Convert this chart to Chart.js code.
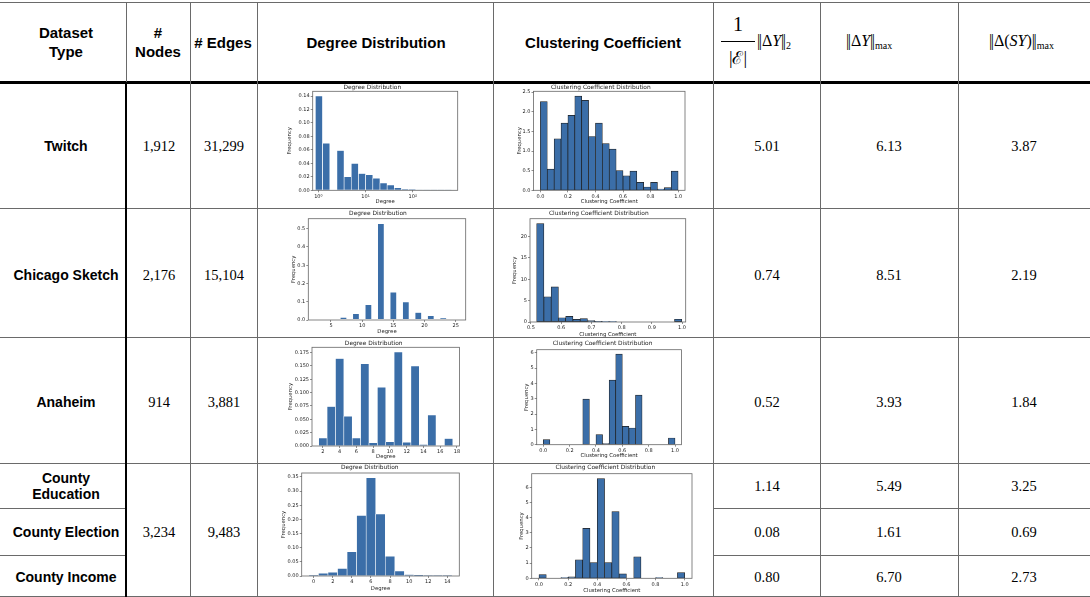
<!DOCTYPE html>
<html lang="en">
<head>
<meta charset="UTF-8">
<title>Dataset statistics</title>
<script src="https://cdn.jsdelivr.net/npm/chart.js"></script>
<style>
  body { margin: 0; background: #fff; }
  #page { position: relative; width: 1090px; height: 597px; overflow: hidden; background: #fff;
          font-family: "Liberation Sans", Arial, sans-serif; color: #000; }
  .h { position: absolute; height: 1px; background: #6a6a6a; }
  .v { position: absolute; width: 1px; background: #6a6a6a; }
  .t { position: absolute; transform: translate(-50%, -50%); text-align: center; white-space: nowrap; }
  .b { font-weight: bold; font-size: 15px; line-height: 19px; }
  .r { font-weight: bold; font-size: 14px; line-height: 16px; }
  .n { font-family: "Liberation Serif", "Times New Roman", serif; font-size: 14.5px; }
  .m { position: absolute; font-family: "Liberation Serif", "Times New Roman", "DejaVu Serif", serif; white-space: nowrap; }
  .m sub { font-size: 10px; vertical-align: -3px; }
  .nb { letter-spacing: -1.5px; margin-right: 1.5px; }
  canvas { position: absolute; }
</style>
</head>
<body>
<div id="page">
  <!-- horizontal rules -->
  <div class="h" style="left:0;top:2px;width:1090px"></div>
  <div class="h" style="left:0;top:81px;width:1090px;height:3px;background:#000"></div>
  <div class="h" style="left:0;top:208px;width:1090px"></div>
  <div class="h" style="left:0;top:337px;width:1090px"></div>
  <div class="h" style="left:0;top:463px;width:1090px"></div>
  <div class="h" style="left:0;top:508px;width:126px"></div>
  <div class="h" style="left:713px;top:508px;width:377px"></div>
  <div class="h" style="left:0;top:555px;width:126px"></div>
  <div class="h" style="left:713px;top:555px;width:377px"></div>
  <div class="h" style="left:0;top:596px;width:1090px"></div>
  <!-- vertical rules -->
  <div class="v" style="left:126px;top:2px;height:80px"></div>
  <div class="v" style="left:125px;top:84px;height:513px;width:2px;background:#000"></div>
  <div class="v" style="left:190px;top:2px;height:595px"></div>
  <div class="v" style="left:257px;top:2px;height:595px"></div>
  <div class="v" style="left:493px;top:2px;height:595px"></div>
  <div class="v" style="left:713px;top:2px;height:595px"></div>
  <div class="v" style="left:820px;top:2px;height:595px"></div>
  <div class="v" style="left:958px;top:2px;height:595px"></div>

  <!-- header -->
  <div class="t b" style="left:66px;top:42px">Dataset<br>Type</div>
  <div class="t b" style="left:158px;top:42px">#<br>Nodes</div>
  <div class="t b" style="left:223px;top:42px"># Edges</div>
  <div class="t b" style="left:376px;top:42px">Degree Distribution</div>
  <div class="t b" style="left:603px;top:42px">Clustering Coefficient</div>

  <div class="m" style="left:722px;top:13px;width:32px;text-align:center;font-size:20px">1</div>
  <div style="position:absolute;left:721px;top:41px;width:34px;height:1px;background:#000"></div>
  <div class="m" style="left:722px;top:45px;width:32px;text-align:center;font-size:18px">|ℰ|</div>
  <div class="m" style="left:757px;top:32px;font-size:16px"><span class="nb">||</span>Δ<i>Y</i><span class="nb">||</span><sub>2</sub></div>
  <div class="m" style="left:846px;top:32px;font-size:16px"><span class="nb">||</span>Δ<i>Y</i><span class="nb">||</span><sub>max</sub></div>
  <div class="m" style="left:989px;top:32px;font-size:16px"><span class="nb">||</span>Δ(<i>SY</i>)<span class="nb">||</span><sub>max</sub></div>
</div>

<script>
  // table values
  const datasetNames = ['Twitch', 'Chicago Sketch', 'Anaheim', 'County<br>Education', 'County Election', 'County Income'];
  const nodeCounts = ['1,912', '2,176', '914', '3,234'];
  const edgeCounts = ['31,299', '15,104', '3,881', '9,483'];
  const errL2 = ['5.01', '0.74', '0.52', '1.14', '0.08', '0.80'];
  const errMax = ['6.13', '8.51', '3.93', '5.49', '1.61', '6.70'];
  const errSmooth = ['3.87', '2.19', '1.84', '3.25', '0.69', '2.73'];

  // histogram data
  const twitchDegBins = [1.03, 1.47, 2.08, 2.95, 4.19, 5.94, 8.43, 12.0, 17.0, 24.1, 34.2, 48.5, 68.9, 97.7, 139, 197, 279, 396, 562];
  const twitchDegFreq = [0.140, 0.070, 0, 0.059, 0.020, 0.040, 0.025, 0.023, 0.018, 0.011, 0.008, 0.004, 0.002, 0.001, 0.0005, 0.0003, 0.0002, 0.0001, 0.0001];
  const twitchDegXTicks = [1, 10, 100];
  const twitchDegXLabels = ['10⁰', '10¹', '10²'];
  const twitchDegYLabels = ['0.00', '0.02', '0.04', '0.06', '0.08', '0.10', '0.12', '0.14'];

  const ccBins = [0.025, 0.075, 0.125, 0.175, 0.225, 0.275, 0.325, 0.375, 0.425, 0.475,
                  0.525, 0.575, 0.625, 0.675, 0.725, 0.775, 0.825, 0.875, 0.925, 0.975];
  const ccXLabels = ['0.0', '0.2', '0.4', '0.6', '0.8', '1.0'];

  const twitchCcFreq = [2.26, 0.54, 1.31, 1.71, 1.91, 2.40, 2.29, 1.37, 1.71, 1.19,
                        1.05, 0.50, 0.37, 0.49, 0.20, 0.085, 0.20, 0.03, 0.07, 0.49];
  const twitchCcYLabels = ['0.0', '0.5', '1.0', '1.5', '2.0', '2.5'];

  const chicagoDegBins = [3, 5, 7, 9, 11, 13, 15, 17, 19, 21, 23, 25];
  const chicagoDegFreq = [0.003, 0.005, 0.016, 0.036, 0.085, 0.529, 0.154, 0.100, 0.043, 0.025, 0.013, 0.005];
  const chicagoDegXLabels = ['5', '10', '15', '20', '25'];
  const chicagoDegYLabels = ['0.0', '0.1', '0.2', '0.3', '0.4', '0.5'];

  const chicagoCcBins = [0.531, 0.555, 0.579, 0.603, 0.627, 0.651, 0.675, 0.699, 0.723, 0.747,
                         0.771, 0.795, 0.819, 0.843, 0.867, 0.891, 0.915, 0.939, 0.963, 0.987];
  const chicagoCcFreq = [23.0, 5.9, 8.2, 1.0, 1.3, 0.6, 0.8, 0.35, 0.15, 0.12,
                         0.1, 0, 0, 0, 0, 0, 0, 0, 0, 0.65];
  const chicagoCcXLabels = ['0.5', '0.6', '0.7', '0.8', '0.9', '1.0'];
  const chicagoCcYLabels = ['0', '5', '10', '15', '20'];

  const anaheimDegBins = [2, 3, 4, 5, 6, 7, 8, 9, 10, 11, 12, 13, 14, 15, 16, 17];
  const anaheimDegFreq = [0.015, 0.074, 0.164, 0.056, 0.015, 0.154, 0.006, 0.110, 0.008, 0.176, 0.007, 0.150, 0.003, 0.058, 0, 0.014];
  const anaheimDegXLabels = ['2', '4', '6', '8', '10', '12', '14', '16', '18'];
  const anaheimDegYLabels = ['0.000', '0.025', '0.050', '0.075', '0.100', '0.125', '0.150', '0.175'];

  const anaheimCcFreq = [0.33, 0, 0, 0, 0, 0, 2.98, 0, 0.66, 0.07,
                         4.22, 5.91, 1.20, 1.09, 3.24, 0, 0, 0, 0, 0.44];
  const anaheimCcYLabels = ['0', '1', '2', '3', '4', '5', '6'];

  const countyDegBins = [0, 1, 2, 3, 4, 5, 6, 7, 8, 9, 10, 11, 12, 13, 14];
  const countyDegFreq = [0.004, 0.010, 0.013, 0.027, 0.086, 0.214, 0.347, 0.219, 0.070, 0.018, 0.005, 0.002, 0.0005, 0.0003, 0.0002];
  const countyDegXLabels = ['0', '2', '4', '6', '8', '10', '12', '14'];
  const countyDegYLabels = ['0.00', '0.05', '0.10', '0.15', '0.20', '0.25', '0.30', '0.35'];

  const countyCcFreq = [0.24, 0, 0, 0.04, 0.09, 1.22, 3.30, 1.04, 6.57, 1.04,
                        4.40, 0.29, 0, 1.42, 0, 0, 0.04, 0, 0, 0.38];
  const countyCcYLabels = ['0', '1', '2', '3', '4', '5', '6'];

  const page = document.getElementById('page');

  // table text
  function cellText(txt, x, y, cls) {
    const d = document.createElement('div');
    d.className = 't ' + cls;
    d.style.left = x + 'px';
    d.style.top = y + 'px';
    d.innerHTML = txt;
    page.appendChild(d);
  }
  const rowY = [146, 275, 402, 486, 532, 577];
  const groupY = [146, 275, 402, 532];
  datasetNames.forEach((name, i) => {
    cellText(name, 66, rowY[i], 'r');
    cellText(errL2[i], 767, rowY[i], 'n');
    cellText(errMax[i], 889, rowY[i], 'n');
    cellText(errSmooth[i], 1024, rowY[i], 'n');
  });
  nodeCounts.forEach((v, i) => cellText(v, 159, groupY[i], 'n'));
  edgeCounts.forEach((v, i) => cellText(v, 224, groupY[i], 'n'));

  // small matplotlib-like histograms
  const FONT = '"DejaVu Sans", sans-serif';
  const BAR = '#3b6ea8';
  const TXT = '#1a1a1a';
  const TITLE_SIZE = 5.9;

  const framePlugin = {
    id: 'frame',
    afterDraw(chart) {
      const { ctx, chartArea: a } = chart;
      ctx.save();
      ctx.strokeStyle = '#666';
      ctx.lineWidth = 0.8;
      ctx.strokeRect(a.left, a.top, a.right - a.left, a.bottom - a.top);
      ctx.restore();
    }
  };

  function hist(o) {
    const [L, T, R, B] = o.box;
    const lh = TITLE_SIZE * 1.2;
    const tpad = Math.max(o.tgap - lh / 2, 0);
    const th = lh + tpad;
    const cx = Math.floor(L - o.yw - 2), cy = Math.floor(T - th - 2);
    const cw = Math.ceil(R + 3) - cx, ch = Math.ceil(B + o.xh + 2) - cy;
    const cv = document.createElement('canvas');
    cv.width = cw;
    cv.height = ch;
    cv.style.left = cx + 'px';
    cv.style.top = cy + 'px';
    page.appendChild(cv);

    const tickFont = { family: FONT, size: 5 };
    const labFont = { family: FONT, size: 5.3 };
    const xTicks = o.xTicks || o.xLabels.map(Number);
    const yTicks = o.yLabels.map(Number);
    const tickGrid = { offset: false, drawOnChartArea: false, tickLength: 2, color: '#444', lineWidth: 0.6 };

    new Chart(cv, {
      type: 'bar',
      data: {
        datasets: [{
          data: o.bins.map((x, i) => ({ x: x, y: o.freq[i] })),
          backgroundColor: BAR,
          borderColor: o.edge,
          borderWidth: o.edgeW,
          borderSkipped: false,
          barPercentage: o.pct || 1,
          categoryPercentage: 1
        }]
      },
      options: {
        responsive: false,
        animation: false,
        devicePixelRatio: 1,
        events: [],
        layout: { padding: { left: L - o.yw - cx, top: T - th - cy, right: cx + cw - R, bottom: cy + ch - B - o.xh } },
        plugins: {
          legend: { display: false },
          tooltip: { enabled: false },
          title: { display: true, text: o.title, color: TXT,
                   font: { family: FONT, size: TITLE_SIZE, weight: 'normal', lineHeight: 1.2 },
                   padding: { top: 0, bottom: tpad } }
        },
        scales: {
          x: {
            type: o.log ? 'logarithmic' : 'linear',
            min: o.xmin, max: o.xmax, offset: false,
            grid: tickGrid, border: { display: false },
            afterBuildTicks: s => { s.ticks = xTicks.map(v => ({ value: v })); },
            afterFit: s => { s.height = o.xh; },
            ticks: { font: tickFont, color: TXT, padding: 1, maxRotation: 0, autoSkip: false,
                     callback: (v, i) => o.xLabels[i] },
            title: { display: true, text: o.xlabel, color: TXT, font: labFont, padding: 0 }
          },
          y: {
            min: 0, max: o.ymax,
            grid: tickGrid, border: { display: false },
            afterBuildTicks: s => { s.ticks = yTicks.map(v => ({ value: v })); },
            afterFit: s => { s.width = o.yw; },
            ticks: { font: tickFont, color: TXT, padding: 1, autoSkip: false,
                     callback: (v, i) => o.yLabels[i] },
            title: { display: true, text: 'Frequency', color: TXT, font: labFont, padding: 0 }
          }
        }
      },
      plugins: [framePlugin]
    });
  }

  const DEG = { title: 'Degree Distribution', xlabel: 'Degree', edge: 'rgba(255,255,255,0.85)', edgeW: 0.6 };
  const CC = { title: 'Clustering Coefficient Distribution', xlabel: 'Clustering Coefficient', edge: '#1e1e1e', edgeW: 0.7 };

  // Twitch
  hist(Object.assign({}, DEG, { box: [312.7, 91.3, 457.7, 190.3], yw: 25.8, xh: 14.8, tgap: 3.6,
    bins: twitchDegBins, freq: twitchDegFreq, log: true, xmin: 0.76, xmax: 898,
    xTicks: twitchDegXTicks, xLabels: twitchDegXLabels, yLabels: twitchDegYLabels, ymax: 0.147 }));
  hist(Object.assign({}, CC, { box: [533.5, 91.3, 685, 190.3], yw: 16.8, xh: 14.1, tgap: 3.6,
    bins: ccBins, freq: twitchCcFreq, xmin: -0.05, xmax: 1.05,
    xLabels: ccXLabels, yLabels: twitchCcYLabels, ymax: 2.52 }));
  // Chicago Sketch
  hist(Object.assign({}, DEG, { box: [308.3, 218.7, 465.7, 320], yw: 18.1, xh: 15.1, tgap: 5,
    bins: chicagoDegBins, freq: chicagoDegFreq, pct: 0.56, xmin: 1.36, xmax: 26.6,
    xLabels: chicagoDegXLabels, yLabels: chicagoDegYLabels, ymax: 0.555 }));
  hist(Object.assign({}, CC, { box: [530, 218.7, 685.7, 322], yw: 18.1, xh: 15.8, tgap: 5,
    bins: chicagoCcBins, freq: chicagoCcFreq, xmin: 0.497, xmax: 1.012,
    xLabels: chicagoCcXLabels, yLabels: chicagoCcYLabels, ymax: 24.15 }));
  // Anaheim
  hist(Object.assign({}, DEG, { box: [312, 347.3, 459.5, 446], yw: 24.1, xh: 13.4, tgap: 3.6,
    bins: anaheimDegBins, freq: anaheimDegFreq, xmin: 0.7, xmax: 18.3,
    xLabels: anaheimDegXLabels, yLabels: anaheimDegYLabels, ymax: 0.185 }));
  hist(Object.assign({}, CC, { box: [536.7, 349.7, 681.6, 444.7], yw: 13.1, xh: 13.7, tgap: 6,
    bins: ccBins, freq: anaheimCcFreq, xmin: -0.05, xmax: 1.05,
    xLabels: ccXLabels, yLabels: anaheimCcYLabels, ymax: 6.2 }));
  // County
  hist(Object.assign({}, DEG, { box: [301.7, 473, 459.3, 576], yw: 21.5, xh: 15.8, tgap: 5.3,
    bins: countyDegBins, freq: countyDegFreq, xmin: -1.25, xmax: 15.25,
    xLabels: countyDegXLabels, yLabels: countyDegYLabels, ymax: 0.364 }));
  hist(Object.assign({}, CC, { box: [531.7, 473.7, 692, 578.3], yw: 13.1, xh: 15.1, tgap: 6,
    bins: ccBins, freq: countyCcFreq, xmin: -0.05, xmax: 1.05,
    xLabels: ccXLabels, yLabels: countyCcYLabels, ymax: 6.9 }));
</script>
</body>
</html>
